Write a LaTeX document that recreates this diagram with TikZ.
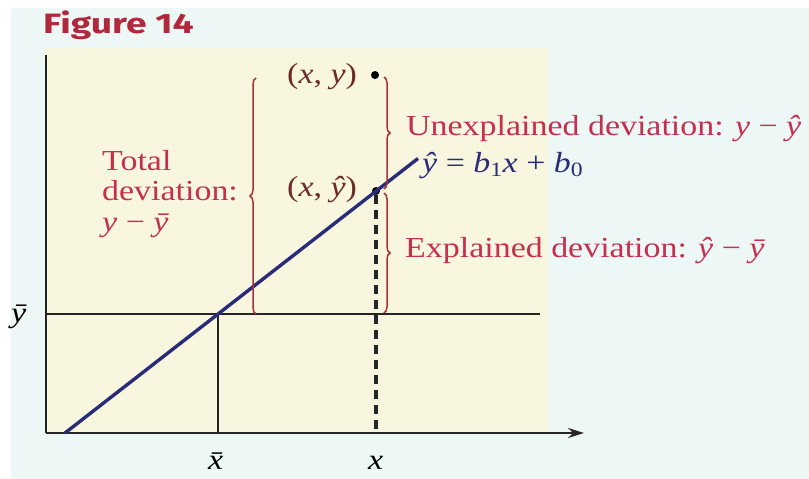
\documentclass[tikz,border=0pt]{standalone}
\usepackage{fontspec}
\setmainfont{Liberation Serif}[FakeStretch=1.17]
\newfontfamily\figfont{Fira Sans}[FakeStretch=1.33]
\usetikzlibrary{decorations.pathreplacing,arrows.meta}
\definecolor{bgc}{HTML}{EDF7F5}
\definecolor{plotc}{HTML}{F8F6DE}
\definecolor{redt}{HTML}{C43050}
\definecolor{brk}{HTML}{A8323A}
\definecolor{navy}{HTML}{2A2C78}
\definecolor{ptc}{HTML}{6E2A2A}
\definecolor{figc}{HTML}{B0283C}
\begin{document}
\begin{tikzpicture}[x=1pt,y=-1pt,
  txt/.style={anchor=base west,inner sep=0pt,font=\fontsize{29}{30}\selectfont},
  redtxt/.style={txt,text=redt},
  axis/.style={line width=2.2pt,black!85},
  brk/.style={draw=brk,line width=1.5pt,decorate,decoration={brace,amplitude=6pt}},
  dot/.style={circle,fill=black,inner sep=0pt,minimum size=8pt}]
\useasboundingbox (0,0) rectangle (809,479);
\fill[white] (0,0) rectangle (809,479);
\fill[bgc] (11,8) rectangle (809,479);
\fill[plotc] (46,48) rectangle (548,433);
% coordinates
\coordinate (O) at (46,433);
\coordinate (Ytop) at (46,55);
\coordinate (Xend) at (584,433);
\coordinate (YbL) at (46,314);
\coordinate (YbR) at (540,314);
\coordinate (M) at (218,314);
\coordinate (Mb) at (218,433);
\coordinate (Xb) at (376,433);
\coordinate (L0) at (65,433);
\coordinate (L1) at (418,158.5);
% axes
\draw[axis] (Ytop) -- (O);
\draw[axis,-{Stealth[length=16pt,width=10pt]}] (O) -- (Xend);
\draw[line width=1.8pt,black!85] (YbL) -- (YbR);
\draw[line width=1.6pt,black!85] (M) -- (Mb);
% points
\node[dot] (P) at (375,75) {};
\node[dot] (Q) at (376,191) {};
\draw[line width=3.2pt,black!85,dash pattern=on 9pt off 6pt] (Q) -- (Xb);
% regression line
\draw[line width=3.4pt,navy] (L0) -- (L1);
% braces
\coordinate (T0) at (256,314); \coordinate (T1) at (256,78);
\coordinate (U0) at (384,77);  \coordinate (U1) at (384,189);
\coordinate (E0) at (384,193); \coordinate (E1) at (384,313);
\draw[brk] (T0) -- (T1);
\draw[brk] (U0) -- (U1);
\draw[brk] (E0) -- (E1);
% texts
\node[anchor=base west,inner sep=0pt,text=figc,font=\figfont\bfseries\fontsize{28}{30}\selectfont] (fig) at (43,34) {Figure 14};
\node[redtxt] (tot1) at (102,170) {Total};
\node[redtxt] (tot2) at (102,200) {deviation:};
\node[redtxt] (tot3) at (102,231) {\textit{y} − \textit{ȳ}};
\node[txt,text=ptc] (lp) at (287,83) {(\textit{x}, \textit{y})};
\node[txt,text=ptc] (lq) at (287,196) {(\textit{x}, \textit{ŷ})};
\node[redtxt] (un) at (406,135) {Unexplained deviation: \textit{y} − \textit{ŷ}};
\node[txt,text=navy] (eq) at (422,172) {\textit{ŷ} = \textit{b}\textsubscript{1}\textit{x} + \textit{b}\textsubscript{0}};
\node[redtxt] (ex) at (405,257) {Explained deviation: \textit{ŷ} − \textit{ȳ}};
\node[txt] (yb) at (11,322) {\textit{ȳ}};
\node[txt] (xb) at (208,469) {\textit{\=x}};
\node[txt] (xl) at (368,469) {\textit{x}};
\end{tikzpicture}
\end{document}
